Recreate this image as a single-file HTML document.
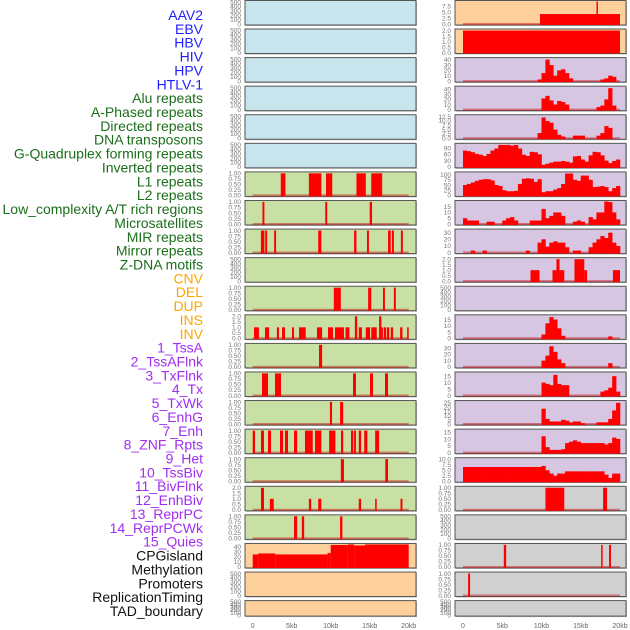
<!DOCTYPE html>
<html><head><meta charset="utf-8"><style>
html,body{margin:0;padding:0;background:#fff;width:630px;height:630px;overflow:hidden}
svg{display:block}
</style></head><body>
<svg id="chart" width="630" height="630" xmlns="http://www.w3.org/2000/svg" font-family="Liberation Sans, sans-serif"></svg>
<script>
// ---- labels ----
const labels = ["AAV2","EBV","HBV","HIV","HPV","HTLV-1","Alu repeats","A-Phased repeats","Directed repeats","DNA transposons","G-Quadruplex forming repeats","Inverted repeats","L1 repeats","L2 repeats","Low_complexity A/T rich regions","Microsatellites","MIR repeats","Mirror repeats","Z-DNA motifs","CNV","DEL","DUP","INS","INV","1_TssA","2_TssAFlnk","3_TxFlnk","4_Tx","5_TxWk","6_EnhG","7_Enh","8_ZNF_Rpts","9_Het","10_TssBiv","11_BivFlnk","12_EnhBiv","13_ReprPC","14_ReprPCWk","15_Quies","CPGisland","Methylation","Promoters","ReplicationTiming","TAD_boundary"];
const labelGroups = [6,13,5,15,5];
const xTicks = [0,5,10,15,20];
const xTickLabels = ["0","5kb","10kb","15kb","20kb"];

// ---- bar-type data [startKb, endKb, value] ----
const alu = [[3.6,4.2,1],[7.2,8.8,1],[9.4,10.2,1],[13.3,14.5,1],[15.2,16.6,1]];
const aPhased = [[1.25,1.5,1],[9.3,9.55,1],[15.0,15.3,1]];
const directed = [[1.05,1.5,1],[1.6,1.85,1],[2.75,3.0,1],[8.4,8.8,1],[13.0,13.3,1],[14.65,14.9,1],[17.35,17.7,1],[17.85,18.1,1],[19.0,19.25,1]];
const gQuad = [[10.4,11.3,1],[14.8,15.2,1],[16.7,16.95,1],[18.1,18.35,1]];
const inverted = [[0.17,0.8,1],[1.58,2.1,1],[3.1,3.37,1],[3.76,4.14,1],[5.04,5.3,1],[5.94,6.8,1],[8.24,8.9,1],[9.65,10.3,1],[10.55,11.7,1],[11.9,12.4,1],[13.1,13.4,2],[13.6,14.0,1],[14.5,15.04,1],[15.2,15.9,1],[16.2,16.5,2],[16.5,16.6,1],[16.8,17.1,1],[17.2,17.5,1],[17.7,18.0,1],[18.9,19.2,1],[19.8,20,1]];
const l1 = [[8.5,8.9,1]];
const l2 = [[1.19,1.96,1],[2.86,3.63,1],[12.86,13.24,1],[15.04,15.42,1],[16.96,17.35,1]];
const lowComplexity = [[9.9,10.17,1],[11.2,11.6,1]];
const microsat = [[0,0.3,1],[1.06,1.45,1],[1.96,2.35,1],[3.5,3.9,1],[4.14,4.53,1],[5.3,5.7,1],[6.7,7.7,1],[7.99,8.8,1],[9.8,10.6,1],[11.32,11.6,1],[12.6,12.9,1],[13.0,13.24,1],[13.6,13.9,1],[14.3,14.7,1],[15.7,16.2,1]];
const mir = [[11.3,11.7,1],[17.0,17.35,1]];
const mirror = [[1.06,1.45,2],[2.2,2.7,1],[7.2,7.5,1],[8.4,8.8,1],[13.6,13.9,1],[15.7,15.9,1],[18.95,19.2,1]];
const zdna = [[5.3,5.7,1],[6.3,6.6,1],[11.2,11.5,1]];
const cnv = [[0,0.7,25],[0.7,2.9,27],[2.9,9.6,25],[9.6,10.0,28],[10.0,12.2,44],[12.2,13.0,46],[13.0,14.4,43],[14.4,20,47]];
const ins = [[9.8,20,4.2],[17.0,17.15,10]];
const inv = [[0,20,2]];
const znf = [[8.6,9.75,1],[11.4,11.9,1],[11.9,12.3,2],[12.3,12.9,1],[14.2,15.45,2],[15.45,15.8,1],[19.1,20,1]];
const cpg = [[10.5,12.9,1],[17.85,18.35,1]];
const promoters = [[5.2,5.5,1],[17.6,17.7,1],[18.6,18.85,1]];
const replication = [[0.65,0.9,1]];

// ---- binned area data (0.5kb bins, 0-20kb) ----
const tssA = [0,0,0,0,0,0,0,0,0,0,0,0,0,0,0,0,0,0,0,3,15,40,30,10,20,22,15,5,0,0,0,0,0,0,0,3,5,10,8,0];
const tssAFlnk = [0,0,0,0,0,0,0,0,0,0,0,0,0,0,0,0,0,0,0,0,22,27,18,10,17,15,10,0,0,0,0,0,0,0,5,8,20,42,8,0];
const txFlnk = [0,0,0,0,0,0,0,0,0,0,0,0,0,0,0,0,0,0,0,3,12,10,9,5,2,1,0,0,1.5,1.5,1.5,0,0,0,1.5,3,7,6,0,0];
const tx = [78,75,70,62,58,52,62,78,88,105,105,105,102,105,88,58,52,72,70,60,10,15,20,25,25,28,25,20,50,52,35,25,55,72,70,55,30,18,28,35];
const txWk = [50,55,62,70,75,78,78,72,50,45,25,20,20,22,55,80,82,80,65,78,15,20,20,28,35,55,105,105,75,70,95,95,75,40,42,45,40,20,35,45];
const enhG = [5,3,3,3,0,0,2,2,0,0,3,5,6,3,0,0,0,3,3,3,13,5,7,10,10,7,0,0,2,3,2,0,6,4,10,10,20,19,10,4];
const enh = [0,0,3,0,0,3,0,0,0,0,0,0,0,0,0,0,3,0,0,15,20,9,15,17,15,15,8,0,3,3,0,0,8,15,20,25,22,30,15,10];
const tssBiv = [0,0,0,0,0,0,0,0,0,0,0,0,0,0,0,0,0,0,0,0,3,12,17,15,8,2,0,0,0,0,0,0,0,0,0,0,0,1.5,0,0];
const bivFlnk = [0,0,0,0,0,0,0,0,0,0,0,0,0,0,0,0,0,0,0,0,10,18,33,24,12,6,0,0,0,0,0,0,0,0,0,0,0,6,0,0];
const enhBiv = [0,0,0,0,0,0,0,0,0,0,0,0,0,0,0,0,0,0,0,0,10,9,8,16,9,8,8,0,0,0,0,0,0,0,0,3,4,6,15,3];
const reprPC = [0,0,0,0,0,0,0,0,0,0,0,0,0,0,0,0,0,0,0,0,18,6,3,3,3,5,4,2,3,3,1,0,0,0,2,2,2,6,16,25];
const reprPCWk = [0,0,0,0,0,0,0,0,0,0,0,0,0,0,0,0,0,0,0,0,12,4,2,2,2,2.5,7,8,9,8,7,7,7,7,7,7,6,7,11,10];
const quies = [6.5,6.5,6.5,6.5,6.5,6.5,6.5,6.5,6.5,6.5,6.5,6.5,6.5,6.5,6.5,6.5,6.5,6.5,6.5,6.5,7,5,3.5,2.5,3.5,3.5,4.5,4.5,4.5,4.5,4.5,4.5,4.5,4.5,4.5,4.5,3,1.5,3.5,3.5];

// ---- tick sets ----
const tEmpty = [0,100,200,300,400,500];
const tFrac = [0,0.25,0.5,0.75,1];
const tTwo = [0,0.5,1,1.5,2];

const BLUE="#c8e4ec", GREEN="#c8e0a4", ORANGE="#fdd09c", PURPLE="#d6c6e2", GREY="#d0d0d0";
// [key, col, row, bg, ticks, decimals, ymax, type, data]
const panels = [
 ["aav2",0,0,BLUE,tEmpty,0,510,"none",null],
 ["ebv",0,1,BLUE,tEmpty,0,510,"none",null],
 ["hbv",0,2,BLUE,tEmpty,0,510,"none",null],
 ["hiv",0,3,BLUE,tEmpty,0,510,"none",null],
 ["hpv",0,4,BLUE,tEmpty,0,510,"none",null],
 ["htlv1",0,5,BLUE,tEmpty,0,510,"none",null],
 ["alu",0,6,GREEN,tFrac,2,1.02,"seg",alu],
 ["a-phased",0,7,GREEN,tFrac,2,1.02,"seg",aPhased],
 ["directed",0,8,GREEN,tFrac,2,1.02,"seg",directed],
 ["dna-transposons",0,9,GREEN,tEmpty,0,510,"none",null],
 ["g-quadruplex",0,10,GREEN,tFrac,2,1.02,"seg",gQuad],
 ["inverted",0,11,GREEN,tTwo,1,2.05,"seg",inverted],
 ["l1",0,12,GREEN,tFrac,2,1.02,"seg",l1],
 ["l2",0,13,GREEN,tFrac,2,1.02,"seg",l2],
 ["low-complexity",0,14,GREEN,tFrac,2,1.02,"seg",lowComplexity],
 ["microsatellites",0,15,GREEN,tFrac,2,1.02,"seg",microsat],
 ["mir",0,16,GREEN,tFrac,2,1.02,"seg",mir],
 ["mirror",0,17,GREEN,tTwo,1,2.05,"seg",mirror],
 ["z-dna",0,18,GREEN,tFrac,2,1.02,"seg",zdna],
 ["cnv",0,19,ORANGE,[0,10,20,30,40],0,45,"seg",cnv],
 ["del",0,20,ORANGE,tEmpty,0,510,"none",null],
 ["dup",0,21,ORANGE,tEmpty,0,510,"none",null],
 ["ins",1,0,ORANGE,[0,2.5,5,7.5],1,9.5,"seg",ins],
 ["inv",1,1,ORANGE,tTwo,1,2.05,"seg",inv],
 ["tssa",1,2,PURPLE,[0,10,20,30,40],0,42,"bin",tssA],
 ["tssaflnk",1,3,PURPLE,[0,10,20,30,40],0,44,"bin",tssAFlnk],
 ["txflnk",1,4,PURPLE,[0,2.5,5,7.5,10,12.5],1,13,"bin",txFlnk],
 ["tx",1,5,PURPLE,[0,30,60,90],0,108,"bin",tx],
 ["txwk",1,6,PURPLE,[0,25,50,75,100],0,108,"bin",txWk],
 ["enhg",1,7,PURPLE,[0,5,10,15],0,19.5,"bin",enhG],
 ["enh",1,8,PURPLE,[0,10,20,30],0,34,"bin",enh],
 ["znf-rpts",1,9,PURPLE,tTwo,1,2.05,"seg",znf],
 ["het",1,10,PURPLE,tEmpty,0,510,"none",null],
 ["tssbiv",1,11,PURPLE,[0,5,10,15],0,18,"bin",tssBiv],
 ["bivflnk",1,12,PURPLE,[0,10,20,30],0,36,"bin",bivFlnk],
 ["enhbiv",1,13,PURPLE,[0,5,10,15],0,17.5,"bin",enhBiv],
 ["reprpc",1,14,PURPLE,[0,5,10,15,20,25],0,26.5,"bin",reprPC],
 ["reprpcwk",1,15,PURPLE,[0,5,10,15],0,16.5,"bin",reprPCWk],
 ["quies",1,16,PURPLE,[0,2.5,5,7.5,10],1,10.3,"bin",quies],
 ["cpgisland",1,17,GREY,tFrac,2,1.02,"seg",cpg],
 ["methylation",1,18,GREY,tEmpty,0,510,"none",null],
 ["promoters",1,19,GREY,tFrac,2,1.02,"seg",promoters],
 ["replication-timing",1,20,GREY,tFrac,2,1.02,"seg",replication],
 ["tad-boundary",1,21,GREY,tEmpty,0,510,"none",null]
];

const NS="http://www.w3.org/2000/svg";
const svg=document.getElementById('chart');
function mk(tag,attrs,parent){const e=document.createElementNS(NS,tag);for(const k in attrs)e.setAttribute(k,attrs[k]);(parent||svg).appendChild(e);return e;}

// labels
const labelColors=["#1f1fff","#1b6e1b","#ffa500","#a02ef0","#111111"];
let gi=0,cnt=0;
labels.forEach((t,i)=>{
  while(cnt>=labelGroups[gi]){gi++;cnt=0;}
  cnt++;
  const el=mk('text',{x:203,y:15+i*13.86+5,'text-anchor':'end','font-size':'14',fill:labelColors[gi]});
  el.textContent=t;
  
  
});

const colX=[{left:245,right:416,x0:252.7,pk:7.8},{left:455,right:626,x0:463,pk:7.85}];
function rowTop(r){return r===0?0.5:29+(r-1)*28.58;}
function rowH(r){return r===21?15.5:24.5;}

panels.forEach(p=>{
  const [key,col,row,bg,ticks,dec,ymax,type,data]=p;
  const c=colX[col], top=rowTop(row), h=rowH(row), bot=top+h;
  const g=mk('g',{});
  
  
  mk('rect',{x:c.left+1,y:top+1,width:c.right-c.left,height:h,fill:'#bbb'},g);
  const bgR=mk('rect',{x:c.left,y:top,width:c.right-c.left,height:h,fill:bg,stroke:'#555','stroke-width':1},g);
  
  
  const xs=k=>c.x0+k*c.pk;
  const ys=v=>bot-1-Math.min(v,ymax)/ymax*(h-2);
  if(type!=="none"){
    mk('line',{x1:xs(0),x2:xs(20),y1:ys(0),y2:ys(0),stroke:'rgba(200,0,0,0.45)','stroke-width':2},g);
  }
  if(type==="seg"){
    data.forEach(d=>{
      const r=mk('rect',{x:xs(d[0]),y:ys(d[2]),width:Math.max(1.5,xs(d[1])-xs(d[0])),height:ys(0)-ys(d[2])+1,fill:'#ff0000'},g);
      
      
    });
  } else if(type==="bin"){
    data.forEach((v,i)=>{
      if(v<=0) return;
      const r=mk('rect',{x:xs(i*0.5),y:ys(v),width:xs(0.5)-xs(0)+0.3,height:ys(0)-ys(v)+1,fill:'#ff0000'},g);
      
      
    });
  }
  ticks.forEach(t=>{
    const tx=mk('text',{x:c.left-4,y:ys(t)+2.3,'text-anchor':'end','font-size':'6.5',fill:'#777'},g);
    tx.textContent=t.toFixed(dec);
    
    
  });
  if(row===21){
    xTicks.forEach((k,i)=>{
      const tx=mk('text',{x:xs(k),y:628,'text-anchor':'middle','font-size':'7',fill:'#666'},g);
      tx.textContent=xTickLabels[i];
      
      
    });
  }
});
</script>
</body></html>
